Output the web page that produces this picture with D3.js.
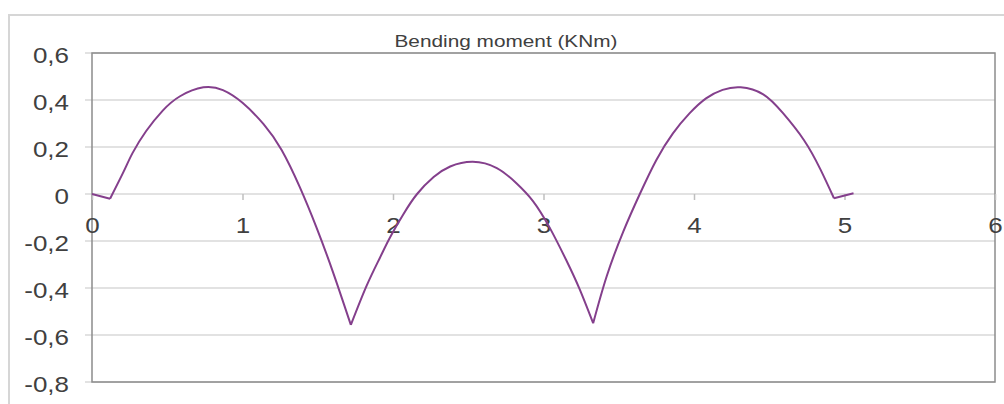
<!DOCTYPE html>
<html>
<head>
<meta charset="utf-8">
<script src="https://cdn.jsdelivr.net/npm/d3@7"></script>
<style>
  html, body { margin: 0; padding: 0; background: #ffffff; }
  svg { display: block; font-family: "Liberation Sans", Arial, sans-serif; }
</style>
</head>
<body>
<svg id="chart" width="1004" height="404"></svg>
<script>
// bending moment along the beam
const posX   = [0, 0.12, 0.21, 0.27, 0.36, 0.47, 0.585, 0.74, 0.87, 1.0, 1.14, 1.26, 1.38, 1.49, 1.60, 1.72,
                1.825, 1.914, 1.98, 2.07, 2.16, 2.27, 2.38, 2.53, 2.69, 2.82, 2.93, 3.04, 3.15, 3.24, 3.33,
                3.42, 3.53, 3.64, 3.75, 3.86, 3.97, 4.08, 4.19, 4.31, 4.46, 4.59, 4.73, 4.84, 4.93, 5.06];
const moment = [0, -0.02, 0.095, 0.175, 0.268, 0.355, 0.416, 0.454, 0.442, 0.388, 0.297, 0.187, 0.03, -0.14, -0.33, -0.557,
                -0.39, -0.27, -0.185, -0.085, 0.0, 0.072, 0.117, 0.137, 0.11, 0.046, -0.03, -0.142, -0.28, -0.405, -0.55,
                -0.35, -0.16, 0.0, 0.145, 0.258, 0.343, 0.407, 0.443, 0.454, 0.424, 0.345, 0.23, 0.105, -0.018, 0.003];
// points where the curve has a kink (supports)
const kinkX  = [0.12, 1.72, 3.33, 4.93];

const xTicks = [0, 1, 2, 3, 4, 5, 6];
const yTicks = [-0.8, -0.6, -0.4, -0.2, 0, 0.2, 0.4, 0.6];
const chartTitle = "Bending moment (KNm)";

const W = 1004, H = 404;
const plot = { left: 92, right: 995, top: 53, bottom: 382 };

const svg = d3.select("#chart");

// outer chart frame (cut off at right and bottom)
svg.append("path")
    .attr("d", "M9," + H + " V15 H" + W)
    .attr("fill", "none")
    .attr("stroke", "#d6d6d6")
    .attr("stroke-width", 2);

const x = d3.scaleLinear().domain([0, 6]).range([plot.left, plot.right]);
const y = d3.scaleLinear().domain([-0.8, 0.6]).range([plot.bottom, plot.top]);

const fmtY = (d) => d === 0 ? "0" : d.toFixed(1).replace(".", ",");
const fmtX = (d) => String(d);

// gridlines
svg.append("g")
    .selectAll("line")
    .data(yTicks)
    .enter()
        .append("line")
            .attr("x1", plot.left - 7)
            .attr("x2", plot.right)
            .attr("y1", (d) => y(d))
            .attr("y2", (d) => y(d))
            .attr("stroke", "#d9d9d9")
            .attr("stroke-width", 1.5);

// plot border
svg.append("rect")
    .attr("x", plot.left)
    .attr("y", plot.top)
    .attr("width", plot.right - plot.left)
    .attr("height", plot.bottom - plot.top)
    .attr("fill", "none")
    .attr("stroke", "#8c8c8c")
    .attr("stroke-width", 1.5);

// y axis labels
const yAxis = svg.append("g")
    .attr("transform", "translate(" + plot.left + ",0)")
    .call(d3.axisLeft(y).tickValues(yTicks).tickFormat(fmtY).tickSize(0).tickPadding(0));
yAxis.select(".domain").remove();
yAxis.selectAll("text")
    .attr("x", 0)
    .attr("transform", "translate(-23,2) scale(1.18,1)")
    .attr("fill", "#404040")
    .style("font-size", "22px");

// x axis sits on the zero line
const xAxis = svg.append("g")
    .attr("transform", "translate(0," + y(0) + ")")
    .call(d3.axisBottom(x).tickValues(xTicks).tickFormat(fmtX).tickSize(6).tickPadding(17));
xAxis.select(".domain").remove();
xAxis.selectAll("line").attr("stroke", "#bfbfbf").attr("stroke-width", 1.5);
xAxis.selectAll("text")
    .attr("transform", "scale(1.18,1)")
    .attr("fill", "#404040")
    .style("font-size", "22px");

// title
svg.append("text")
    .attr("transform", "translate(506,47) scale(1.3,1)")
    .attr("text-anchor", "middle")
    .attr("fill", "#404040")
    .style("font-size", "16px")
    .text(chartTitle);

// moment curve, split at the kinks so corners stay sharp
const pts = posX.map((d, i) => ({ x: d, m: moment[i] }));
const pieces = [];
let cur = [];
pts.forEach((p) => {
    cur.push(p);
    if (kinkX.indexOf(p.x) >= 0) { pieces.push(cur); cur = [p]; }
});
pieces.push(cur);

const line = d3.line()
    .x((d) => x(d.x))
    .y((d) => y(d.m))
    .curve(d3.curveNatural);

svg.append("g")
    .selectAll("path")
    .data(pieces)
    .enter()
        .append("path")
            .attr("d", line)
            .attr("fill", "none")
            .attr("stroke", "#843f8c")
            .attr("stroke-width", 2)
            .attr("stroke-linejoin", "round");
</script>
</body>
</html>
